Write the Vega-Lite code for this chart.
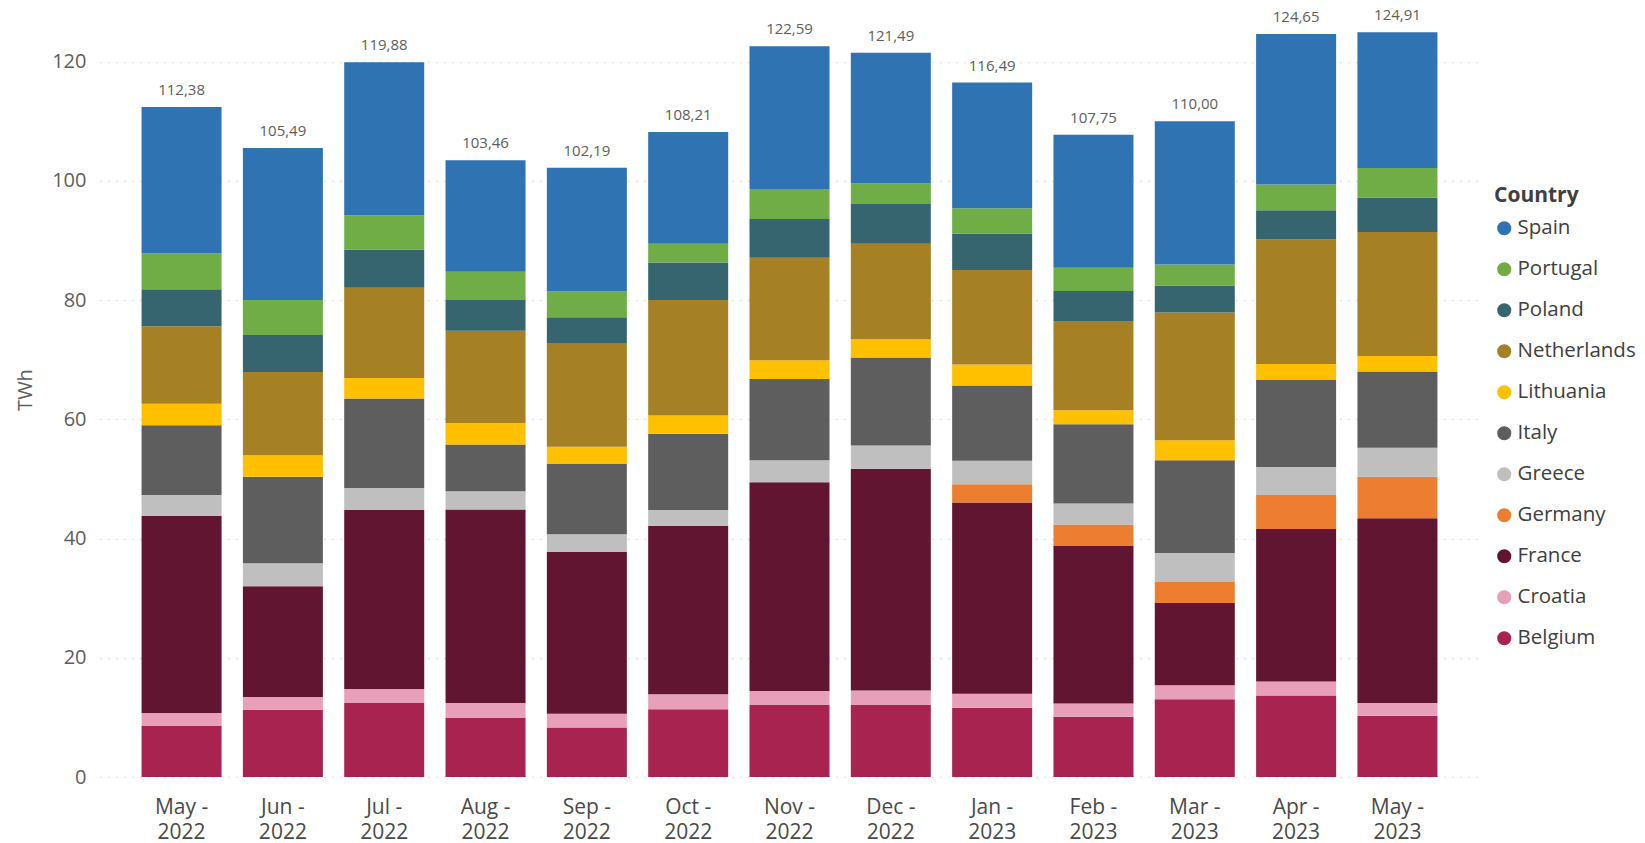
{
  "$schema": "https://vega.github.io/schema/vega-lite/v6.json",
  "width": 1379,
  "height": 775,
  "autosize": {"type": "none"},
  "padding": {"left": 100, "top": 2, "right": 166, "bottom": 66},
  "background": "white",
  "config": {
    "view": {"stroke": null},
    "font": "Open Sans",
    "locale": {"number": {"decimal": ",", "thousands": ".", "grouping": [3], "currency": ["", ""]}}
  },
  "data": {"values": [
    {"Month":"May - 2022","Country":"Belgium","TWh":8.56},{"Month":"May - 2022","Country":"Croatia","TWh":2.16},{"Month":"May - 2022","Country":"France","TWh":33.06},{"Month":"May - 2022","Country":"Greece","TWh":3.52},{"Month":"May - 2022","Country":"Italy","TWh":11.70},{"Month":"May - 2022","Country":"Lithuania","TWh":3.60},{"Month":"May - 2022","Country":"Netherlands","TWh":13.00},{"Month":"May - 2022","Country":"Poland","TWh":6.20},{"Month":"May - 2022","Country":"Portugal","TWh":6.00},{"Month":"May - 2022","Country":"Spain","TWh":24.58},
    {"Month":"Jun - 2022","Country":"Belgium","TWh":11.26},{"Month":"Jun - 2022","Country":"Croatia","TWh":2.16},{"Month":"Jun - 2022","Country":"France","TWh":18.56},{"Month":"Jun - 2022","Country":"Greece","TWh":3.88},{"Month":"Jun - 2022","Country":"Italy","TWh":14.50},{"Month":"Jun - 2022","Country":"Lithuania","TWh":3.60},{"Month":"Jun - 2022","Country":"Netherlands","TWh":13.97},{"Month":"Jun - 2022","Country":"Poland","TWh":6.21},{"Month":"Jun - 2022","Country":"Portugal","TWh":5.86},{"Month":"Jun - 2022","Country":"Spain","TWh":25.49},
    {"Month":"Jul - 2022","Country":"Belgium","TWh":12.43},{"Month":"Jul - 2022","Country":"Croatia","TWh":2.34},{"Month":"Jul - 2022","Country":"France","TWh":30.00},{"Month":"Jul - 2022","Country":"Greece","TWh":3.70},{"Month":"Jul - 2022","Country":"Italy","TWh":15.04},{"Month":"Jul - 2022","Country":"Lithuania","TWh":3.43},{"Month":"Jul - 2022","Country":"Netherlands","TWh":15.13},{"Month":"Jul - 2022","Country":"Poland","TWh":6.40},{"Month":"Jul - 2022","Country":"Portugal","TWh":5.76},{"Month":"Jul - 2022","Country":"Spain","TWh":25.65},
    {"Month":"Aug - 2022","Country":"Belgium","TWh":9.91},{"Month":"Aug - 2022","Country":"Croatia","TWh":2.52},{"Month":"Aug - 2022","Country":"France","TWh":32.43},{"Month":"Aug - 2022","Country":"Greece","TWh":3.07},{"Month":"Aug - 2022","Country":"Italy","TWh":7.84},{"Month":"Aug - 2022","Country":"Lithuania","TWh":3.60},{"Month":"Aug - 2022","Country":"Netherlands","TWh":15.49},{"Month":"Aug - 2022","Country":"Poland","TWh":5.14},{"Month":"Aug - 2022","Country":"Portugal","TWh":4.77},{"Month":"Aug - 2022","Country":"Spain","TWh":18.69},
    {"Month":"Sep - 2022","Country":"Belgium","TWh":8.29},{"Month":"Sep - 2022","Country":"Croatia","TWh":2.34},{"Month":"Sep - 2022","Country":"France","TWh":27.12},{"Month":"Sep - 2022","Country":"Greece","TWh":2.97},{"Month":"Sep - 2022","Country":"Italy","TWh":11.80},{"Month":"Sep - 2022","Country":"Lithuania","TWh":2.89},{"Month":"Sep - 2022","Country":"Netherlands","TWh":17.38},{"Month":"Sep - 2022","Country":"Poland","TWh":4.33},{"Month":"Sep - 2022","Country":"Portugal","TWh":4.32},{"Month":"Sep - 2022","Country":"Spain","TWh":20.75},
    {"Month":"Oct - 2022","Country":"Belgium","TWh":11.35},{"Month":"Oct - 2022","Country":"Croatia","TWh":2.52},{"Month":"Oct - 2022","Country":"France","TWh":28.29},{"Month":"Oct - 2022","Country":"Greece","TWh":2.61},{"Month":"Oct - 2022","Country":"Italy","TWh":12.80},{"Month":"Oct - 2022","Country":"Lithuania","TWh":3.06},{"Month":"Oct - 2022","Country":"Netherlands","TWh":19.37},{"Month":"Oct - 2022","Country":"Poland","TWh":6.31},{"Month":"Oct - 2022","Country":"Portugal","TWh":3.15},{"Month":"Oct - 2022","Country":"Spain","TWh":18.75},
    {"Month":"Nov - 2022","Country":"Belgium","TWh":12.07},{"Month":"Nov - 2022","Country":"Croatia","TWh":2.34},{"Month":"Nov - 2022","Country":"France","TWh":35.05},{"Month":"Nov - 2022","Country":"Greece","TWh":3.69},{"Month":"Nov - 2022","Country":"Italy","TWh":13.61},{"Month":"Nov - 2022","Country":"Lithuania","TWh":3.15},{"Month":"Nov - 2022","Country":"Netherlands","TWh":17.21},{"Month":"Nov - 2022","Country":"Poland","TWh":6.48},{"Month":"Nov - 2022","Country":"Portugal","TWh":5.05},{"Month":"Nov - 2022","Country":"Spain","TWh":23.94},
    {"Month":"Dec - 2022","Country":"Belgium","TWh":12.07},{"Month":"Dec - 2022","Country":"Croatia","TWh":2.43},{"Month":"Dec - 2022","Country":"France","TWh":37.21},{"Month":"Dec - 2022","Country":"Greece","TWh":3.88},{"Month":"Dec - 2022","Country":"Italy","TWh":14.77},{"Month":"Dec - 2022","Country":"Lithuania","TWh":3.06},{"Month":"Dec - 2022","Country":"Netherlands","TWh":16.04},{"Month":"Dec - 2022","Country":"Poland","TWh":6.67},{"Month":"Dec - 2022","Country":"Portugal","TWh":3.42},{"Month":"Dec - 2022","Country":"Spain","TWh":21.94},
    {"Month":"Jan - 2023","Country":"Belgium","TWh":11.62},{"Month":"Jan - 2023","Country":"Croatia","TWh":2.34},{"Month":"Jan - 2023","Country":"France","TWh":32.08},{"Month":"Jan - 2023","Country":"Germany","TWh":3.06},{"Month":"Jan - 2023","Country":"Greece","TWh":3.96},{"Month":"Jan - 2023","Country":"Italy","TWh":12.62},{"Month":"Jan - 2023","Country":"Lithuania","TWh":3.51},{"Month":"Jan - 2023","Country":"Netherlands","TWh":15.86},{"Month":"Jan - 2023","Country":"Poland","TWh":6.12},{"Month":"Jan - 2023","Country":"Portugal","TWh":4.24},{"Month":"Jan - 2023","Country":"Spain","TWh":21.08},
    {"Month":"Feb - 2023","Country":"Belgium","TWh":10.09},{"Month":"Feb - 2023","Country":"Croatia","TWh":2.25},{"Month":"Feb - 2023","Country":"France","TWh":26.40},{"Month":"Feb - 2023","Country":"Germany","TWh":3.60},{"Month":"Feb - 2023","Country":"Greece","TWh":3.52},{"Month":"Feb - 2023","Country":"Italy","TWh":13.33},{"Month":"Feb - 2023","Country":"Lithuania","TWh":2.34},{"Month":"Feb - 2023","Country":"Netherlands","TWh":14.96},{"Month":"Feb - 2023","Country":"Poland","TWh":5.04},{"Month":"Feb - 2023","Country":"Portugal","TWh":3.88},{"Month":"Feb - 2023","Country":"Spain","TWh":22.34},
    {"Month":"Mar - 2023","Country":"Belgium","TWh":13.06},{"Month":"Mar - 2023","Country":"Croatia","TWh":2.35},{"Month":"Mar - 2023","Country":"France","TWh":13.78},{"Month":"Mar - 2023","Country":"Germany","TWh":3.51},{"Month":"Mar - 2023","Country":"Greece","TWh":4.87},{"Month":"Mar - 2023","Country":"Italy","TWh":15.58},{"Month":"Mar - 2023","Country":"Lithuania","TWh":3.34},{"Month":"Mar - 2023","Country":"Netherlands","TWh":21.44},{"Month":"Mar - 2023","Country":"Poland","TWh":4.50},{"Month":"Mar - 2023","Country":"Portugal","TWh":3.52},{"Month":"Mar - 2023","Country":"Spain","TWh":24.05},
    {"Month":"Apr - 2023","Country":"Belgium","TWh":13.69},{"Month":"Apr - 2023","Country":"Croatia","TWh":2.35},{"Month":"Apr - 2023","Country":"France","TWh":25.58},{"Month":"Apr - 2023","Country":"Germany","TWh":5.68},{"Month":"Apr - 2023","Country":"Greece","TWh":4.68},{"Month":"Apr - 2023","Country":"Italy","TWh":14.60},{"Month":"Apr - 2023","Country":"Lithuania","TWh":2.70},{"Month":"Apr - 2023","Country":"Netherlands","TWh":20.90},{"Month":"Apr - 2023","Country":"Poland","TWh":4.87},{"Month":"Apr - 2023","Country":"Portugal","TWh":4.32},{"Month":"Apr - 2023","Country":"Spain","TWh":25.28},
    {"Month":"May - 2023","Country":"Belgium","TWh":10.27},{"Month":"May - 2023","Country":"Croatia","TWh":2.16},{"Month":"May - 2023","Country":"France","TWh":30.99},{"Month":"May - 2023","Country":"Germany","TWh":6.94},{"Month":"May - 2023","Country":"Greece","TWh":4.87},{"Month":"May - 2023","Country":"Italy","TWh":12.79},{"Month":"May - 2023","Country":"Lithuania","TWh":2.61},{"Month":"May - 2023","Country":"Netherlands","TWh":20.81},{"Month":"May - 2023","Country":"Poland","TWh":5.77},{"Month":"May - 2023","Country":"Portugal","TWh":4.95},{"Month":"May - 2023","Country":"Spain","TWh":22.75}
  ]},
  "encoding": {
    "x": {
      "field": "Month",
      "type": "nominal",
      "scale": {
        "domain": ["May - 2022","Jun - 2022","Jul - 2022","Aug - 2022","Sep - 2022","Oct - 2022","Nov - 2022","Dec - 2022","Jan - 2023","Feb - 2023","Mar - 2023","Apr - 2023","May - 2023"],
        "paddingInner": 0.21,
        "paddingOuter": 0.41
      },
      "axis": {
        "title": null,
        "labelAngle": 0,
        "labelExpr": "[substring(datum.label,0,5), substring(datum.label,6)]",
        "labelFontSize": 21,
        "labelColor": "#4A4A4A",
        "labelLineHeight": 25,
        "labelPadding": 19,
        "labelBaseline": "top",
        "domain": false,
        "ticks": false,
        "grid": false
      }
    }
  },
  "layer": [
    {
      "mark": {"type": "bar", "width": 80},
      "encoding": {
        "y": {
          "field": "TWh",
          "type": "quantitative",
          "aggregate": "sum",
          "stack": "zero",
          "scale": {"domain": [0, 130], "nice": false},
          "title": "TWh",
          "axis": {
            "values": [0, 20, 40, 60, 80, 100, 120],
            "grid": true,
            "gridColor": "#C8C8C8",
            "gridDash": [1, 7],
            "gridWidth": 1.5,
            "domain": false,
            "ticks": false,
            "labelFontSize": 20,
            "labelColor": "#605E5C",
            "labelPadding": 14,
            "titleFontSize": 20,
            "titleFontWeight": "normal",
            "titleColor": "#605E5C",
            "titlePadding": 16
          }
        },
        "color": {
          "field": "Country",
          "type": "nominal",
          "scale": {
            "domain": ["Spain","Portugal","Poland","Netherlands","Lithuania","Italy","Greece","Germany","France","Croatia","Belgium"],
            "range": ["#2F73B3","#70AD47","#36656F","#A58025","#FFC000","#5E5E5E","#BFBFBF","#ED7D31","#611530","#E8A0BA","#A92351"]
          },
          "legend": {
            "orient": "none",
            "legendX": 1394,
            "legendY": 183,
            "title": "Country",
            "titleFontSize": 21,
            "titleFontWeight": "bold",
            "titleColor": "#404040",
            "titlePadding": 12,
            "labelFontSize": 20.5,
            "labelColor": "#404040",
            "symbolType": "circle",
            "symbolSize": 200,
            "symbolStrokeWidth": 0,
            "labelOffset": 3,
            "rowPadding": 20
          }
        },
        "order": {"field": "Country", "sort": "ascending"}
      }
    },
    {
      "transform": [{"aggregate": [{"op": "sum", "field": "TWh", "as": "Total"}], "groupby": ["Month"]}],
      "mark": {"type": "text", "baseline": "bottom", "dy": -9, "fontSize": 15, "color": "#605E5C"},
      "encoding": {
        "y": {"field": "Total", "type": "quantitative", "title": "TWh"},
        "text": {"field": "Total", "type": "quantitative", "format": ".2f"}
      }
    }
  ]
}
